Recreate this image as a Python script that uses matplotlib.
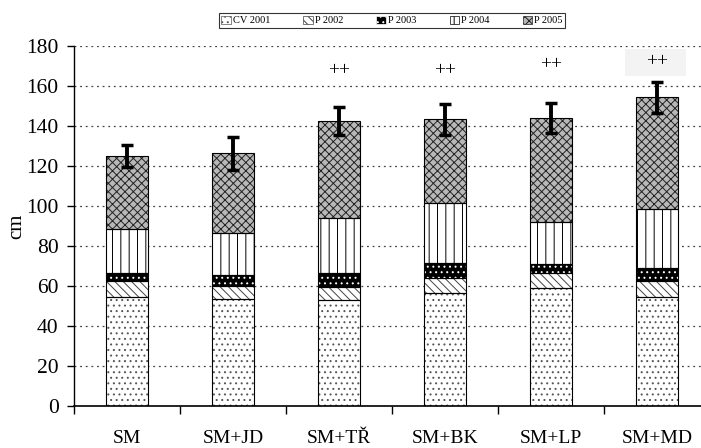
import matplotlib
matplotlib.use("Agg")
import matplotlib.pyplot as plt
import numpy as np
from matplotlib.patches import Patch, Rectangle

plt.rcParams['font.family'] = ['Liberation Serif', 'DejaVu Serif']
plt.rcParams['hatch.linewidth'] = 0.7

categories = ["SM", "SM+JD", "SM+TŘ", "SM+BK", "SM+LP", "SM+MD"]
series_names = ["CV 2001", "P 2002", "P 2003", "P 2004", "P 2005"]
cv2001 = [54.7, 53.5, 53.0, 56.7, 58.8, 54.7]
p2002 = [8.0, 6.5, 6.7, 7.5, 7.9, 8.0]
p2003 = [4.0, 5.3, 6.6, 7.1, 4.1, 6.1]
p2004 = [21.6, 21.0, 27.5, 30.0, 21.2, 29.7]
p2005 = [36.7, 40.0, 48.7, 42.0, 51.8, 55.8]
errors = [5.6, 8.2, 6.8, 7.8, 7.5, 7.7]
sig_labels = ["", "", "++", "++", "++", "++"]
sig_y = [None, None, 167.5, 167.5, 170.8, 172.0]

series = [cv2001, p2002, p2003, p2004, p2005]
# (facecolor, hatch, hatchcolor)
styles = [
    ("white", "...", "#555555"),
    ("white", "\\\\\\\\", "#444444"),
    ("black", "...", "white"),
    ("white", "||", "black"),
    ("#b8b8b8", "xxxx", "#222222"),
]

fig = plt.figure(figsize=(7.01, 4.48), dpi=100)
ax = fig.add_axes([74/701, 42/448, 636/701, 360/448])

x = np.arange(len(categories))
width = 0.39
bottom = np.zeros(len(categories))
for vals, (fc, h, hc) in zip(series, styles):
    vals = np.array(vals)
    ax.bar(x, vals, width, bottom=bottom, color=fc, edgecolor=hc, hatch=h, linewidth=0, zorder=2)
    ax.bar(x, vals, width, bottom=bottom, fill=False, edgecolor="black", linewidth=0.8, zorder=3)
    bottom = bottom + vals

ax.errorbar(x, bottom, yerr=errors, fmt="none", ecolor="black", elinewidth=2.8, capsize=4, capthick=2.5, zorder=4)

for xi, lab, yv in zip(x, sig_labels, sig_y):
    if lab:
        if xi == 5:
            ax.add_patch(Rectangle((xi - 0.30, yv - 7.0), 0.57, 13.5, facecolor="#f3f3f3",
                                   edgecolor="none", zorder=4, clip_on=False))
        ax.text(xi, yv, lab, ha="center", va="center", fontsize=14, zorder=5)

ax.set_ylim(0, 180)
ax.set_xlim(-0.5, 5.5)
ax.set_yticks(np.arange(0, 181, 20))
ax.yaxis.grid(True, linestyle=(0, (1.5, 3)), color="#444444", linewidth=0.9, zorder=0)
ax.set_axisbelow(True)
ax.set_xticks(np.arange(-0.5, 6, 1))
ax.set_xticklabels([])
ax.set_xticks(x, minor=True)
ax.set_xticklabels(categories, minor=True)
ax.tick_params(axis="x", which="minor", length=0, pad=17, labelsize=14)
ax.tick_params(axis="x", which="major", length=6, direction="out", width=1)
ax.tick_params(axis="y", length=5, width=1, pad=6, labelsize=15.5)
for s in ["top", "right"]:
    ax.spines[s].set_visible(False)
ax.spines["left"].set_linewidth(1)
ax.spines["bottom"].set_linewidth(1.2)
ax.set_ylabel("cm", fontsize=15, labelpad=0)

handles = [Patch(facecolor=fc, edgecolor=hc, hatch=h, linewidth=0.5) for fc, h, hc in styles]
leg = fig.legend(handles, series_names, loc="center", bbox_to_anchor=(392/701, 1 - 20.5/448), ncol=5,
                 fontsize=7.5, frameon=True, fancybox=False, edgecolor="black", handlelength=0.9,
                 handleheight=0.9, handletextpad=0.2, columnspacing=3.2, borderpad=0.25, borderaxespad=0)
leg.get_frame().set_linewidth(0.8)

fig.savefig("out.png", dpi=100)
